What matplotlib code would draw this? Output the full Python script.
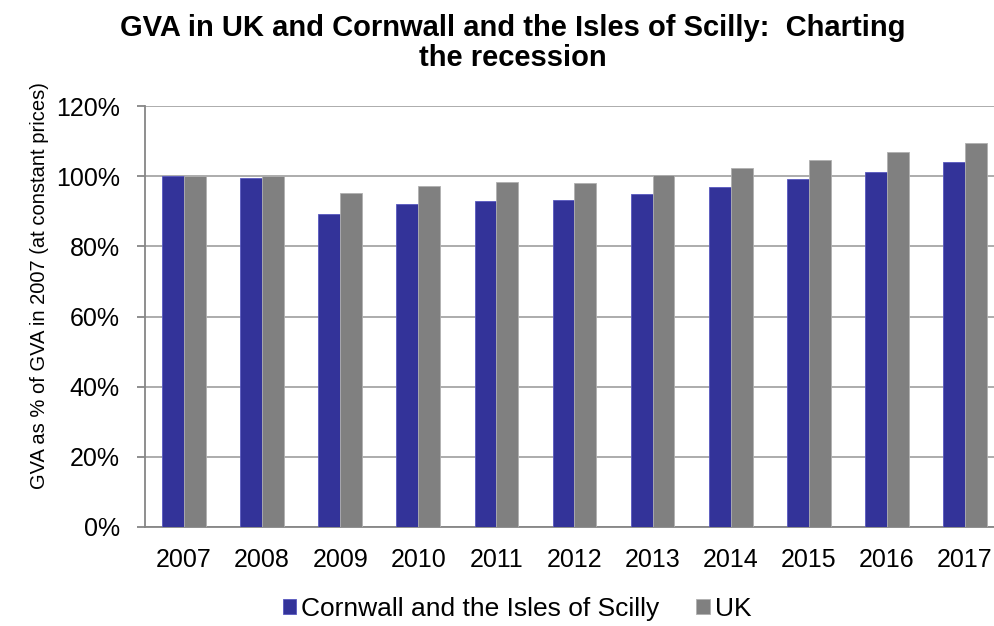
import matplotlib
matplotlib.use("Agg")
import matplotlib.pyplot as plt
import numpy as np
from matplotlib.ticker import FuncFormatter

years = ["2007", "2008", "2009", "2010", "2011", "2012", "2013", "2014", "2015", "2016", "2017"]
cornwall = [100.0, 99.6, 89.1, 92.0, 93.0, 93.1, 94.8, 96.9, 99.2, 101.3, 103.9]
uk = [100.0, 100.0, 95.3, 97.2, 98.2, 98.1, 100.2, 102.2, 104.6, 106.8, 109.5]
series_names = ["Cornwall and the Isles of Scilly", "UK"]
title = "GVA in UK and Cornwall and the Isles of Scilly:  Charting\nthe recession"
ylabel = "GVA as % of GVA in 2007 (at constant prices)"

plt.rcParams['font.family'] = ['Liberation Sans', 'DejaVu Sans']

W, H = 995, 626
fig = plt.figure(figsize=(W / 100, H / 100), dpi=100)
left, right, top, bottom = 145, 1004, 106, 527
ax = fig.add_axes([left / W, 1 - bottom / H, (right - left) / W, (bottom - top) / H])

x = np.arange(len(years))
bw = 0.28
grid_c = "#A6A6A6"
ax.bar(x - bw / 2, cornwall, bw, color="#333399", edgecolor="#5858c0", linewidth=0.6,
       label=series_names[0], zorder=3)
ax.bar(x + bw / 2, uk, bw, color="#808080", edgecolor="#b0b0b0", linewidth=0.6,
       label=series_names[1], zorder=3)

ax.set_xlim(-0.5, len(years) - 0.5)
ax.set_ylim(0, 120)
ax.set_yticks(np.arange(0, 121, 20))
ax.yaxis.set_major_formatter(FuncFormatter(lambda v, p: f"{int(v)}%"))
ax.set_xticks(x)
ax.set_xticklabels(years)
ax.grid(axis="y", color=grid_c, linewidth=1.3, zorder=0)
ax.set_axisbelow(True)
for s in ["top", "right"]:
    ax.spines[s].set_visible(False)
for s in ["left", "bottom"]:
    ax.spines[s].set_color("#868686")
    ax.spines[s].set_linewidth(1.3)
ax.tick_params(axis="y", length=6, width=1.3, color="#868686", labelsize=18, pad=12)
ax.tick_params(axis="x", length=0, labelsize=18, pad=15)
ax.set_ylabel(ylabel, fontsize=14.5)
ax.yaxis.set_label_coords((49 - left) / (right - left), (bottom - 286) / (bottom - top))

fig.text(513 / W, 1 - 43 / H, title, ha="center", va="center", fontsize=21,
         fontweight="bold", linespacing=1.1)

leg = fig.legend(loc="center", bbox_to_anchor=(517 / W, 1 - 609 / H), ncol=2, frameon=False,
                 fontsize=19, handlelength=0.5, handleheight=0.5, handletextpad=0.2,
                 columnspacing=1.4)

fig.savefig("out.png", dpi=100)
